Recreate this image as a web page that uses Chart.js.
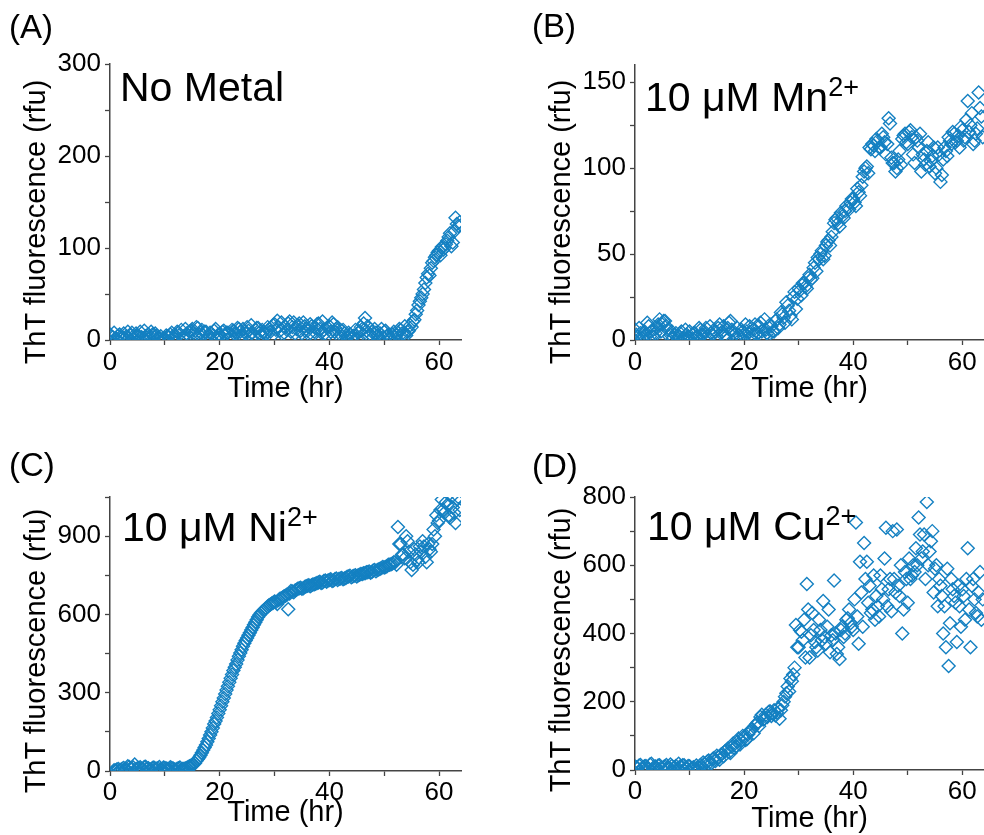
<!DOCTYPE html>
<html>
<head>
<meta charset="utf-8">
<script src="https://cdn.jsdelivr.net/npm/chart.js@4/dist/chart.umd.min.js"></script>
<style>
  body { margin: 0; width: 984px; height: 835px; overflow: hidden; background: #fff; position: relative;
         font-family: "Liberation Sans", Arial, sans-serif; }
  canvas { position: absolute; }
  .txt { position: absolute; color: #000; white-space: nowrap; line-height: 1; }
  .tag { font-size: 33px; }
  .name { font-size: 41px; }
  .name sup { font-size: 27px; vertical-align: 15px; line-height: 0; }
  .ytitle { font-size: 29px; transform: translate(-50%, -50%) rotate(-90deg); }
</style>
</head>
<body>
<canvas id="panelA" width="492" height="410" style="left:0;top:0;width:492px;height:410px"></canvas>
<canvas id="panelB" width="500" height="410" style="left:492px;top:0;width:500px;height:410px"></canvas>
<canvas id="panelC" width="492" height="415" style="left:0;top:420px;width:492px;height:415px"></canvas>
<canvas id="panelD" width="500" height="415" style="left:492px;top:420px;width:500px;height:415px"></canvas>

<div class="txt tag" style="left:9px;top:10px">(A)</div>
<div class="txt tag" style="left:532px;top:9px">(B)</div>
<div class="txt tag" style="left:9px;top:448px">(C)</div>
<div class="txt tag" style="left:532px;top:449px">(D)</div>

<div class="txt name" style="left:120px;top:67px">No Metal</div>
<div class="txt name" style="left:645px;top:77px">10 μM Mn<sup>2+</sup></div>
<div class="txt name" style="left:122px;top:507px">10 μM Ni<sup>2+</sup></div>
<div class="txt name" style="left:647px;top:506px">10 μM Cu<sup>2+</sup></div>

<div class="txt ytitle" style="left:35px;top:222px">ThT fluorescence (rfu)</div>
<div class="txt ytitle" style="left:560px;top:222px">ThT fluorescence (rfu)</div>
<div class="txt ytitle" style="left:35px;top:651px">ThT fluorescence (rfu)</div>
<div class="txt ytitle" style="left:560px;top:650px">ThT fluorescence (rfu)</div>

<script>
// sampling times (hr) of the two interleaved read series
var times = [
  0, 0.5, 1, 1.5, 2, 2.5, 3, 3.5, 4, 4.5, 5, 5.5, 6, 6.5, 7, 7.5,
  8, 8.5, 9, 9.5, 10, 10.5, 11, 11.5, 12, 12.5, 13, 13.5, 14, 14.5, 15, 15.5,
  16, 16.5, 17, 17.5, 18, 18.5, 19, 19.5, 20, 20.5, 21, 21.5, 22, 22.5, 23, 23.5,
  24, 24.5, 25, 25.5, 26, 26.5, 27, 27.5, 28, 28.5, 29, 29.5, 30, 30.5, 31, 31.5,
  32, 32.5, 33, 33.5, 34, 34.5, 35, 35.5, 36, 36.5, 37, 37.5, 38, 38.5, 39, 39.5,
  40, 40.5, 41, 41.5, 42, 42.5, 43, 43.5, 44, 44.5, 45, 45.5, 46, 46.5, 47, 47.5,
  48, 48.5, 49, 49.5, 50, 50.5, 51, 51.5, 52, 52.5, 53, 53.5, 54, 54.5, 55, 55.5,
  56, 56.5, 57, 57.5, 58, 58.5, 59, 59.5, 60, 60.5, 61, 61.5, 62, 62.5, 63, 63.5
];
var times2 = [
  0.25, 0.75, 1.25, 1.75, 2.25, 2.75, 3.25, 3.75, 4.25, 4.75, 5.25, 5.75, 6.25, 6.75, 7.25, 7.75,
  8.25, 8.75, 9.25, 9.75, 10.25, 10.75, 11.25, 11.75, 12.25, 12.75, 13.25, 13.75, 14.25, 14.75, 15.25, 15.75,
  16.25, 16.75, 17.25, 17.75, 18.25, 18.75, 19.25, 19.75, 20.25, 20.75, 21.25, 21.75, 22.25, 22.75, 23.25, 23.75,
  24.25, 24.75, 25.25, 25.75, 26.25, 26.75, 27.25, 27.75, 28.25, 28.75, 29.25, 29.75, 30.25, 30.75, 31.25, 31.75,
  32.25, 32.75, 33.25, 33.75, 34.25, 34.75, 35.25, 35.75, 36.25, 36.75, 37.25, 37.75, 38.25, 38.75, 39.25, 39.75,
  40.25, 40.75, 41.25, 41.75, 42.25, 42.75, 43.25, 43.75, 44.25, 44.75, 45.25, 45.75, 46.25, 46.75, 47.25, 47.75,
  48.25, 48.75, 49.25, 49.75, 50.25, 50.75, 51.25, 51.75, 52.25, 52.75, 53.25, 53.75, 54.25, 54.75, 55.25, 55.75,
  56.25, 56.75, 57.25, 57.75, 58.25, 58.75, 59.25, 59.75, 60.25, 60.75, 61.25, 61.75, 62.25, 62.75, 63.25, 63.75
];

// (A) no metal
var noMetal = [
  6, 3, 2, 5, 1, 7, 4, 2, 8, 3, 5, 9, 2, 4, 6, 9,
  3, 5, 1, 0, 2, 4, 6, 3, 5, 8, 11, 4, 7, 9, 12, 6,
  13, 8, 5, 9, 4, 7, 10, 3, 6, 9, 5, 8, 4, 10, 7, 12,
  5, 9, 14, 6, 8, 11, 13, 5, 9, 7, 12, 4, 17, 21, 10, 6,
  14, 18, 9, 19, 12, 18, 7, 15, 10, 17, 5, 13, 18, 8, 11, 4,
  15, 19, 9, 14, 6, 11, 3, 8, 2, 5, 1, 9, 12, 24, 15, 6,
  3, 8, 2, 12, 9, 4, 1, 6, 3, 8, 11, 6, 5, 10, 14, 22,
  32, 42, 50, 62, 72, 78, 86, 92, 97, 101, 100, 108, 116, 106, 133, 124
];
var noMetal2 = [
  4, 8, 1, 6, 3, 2, 9, 5, 1, 7, 4, 3, 10, 5, 2, 6,
  7, 2, 4, 1, 5, 3, 8, 2, 9, 6, 3, 12, 5, 10, 8, 14,
  6, 11, 9, 3, 8, 5, 12, 6, 4, 10, 8, 2, 11, 6, 13, 9,
  12, 7, 10, 16, 5, 13, 8, 11, 6, 14, 9, 16, 11, 14, 19, 8,
  11, 20, 14, 7, 16, 10, 19, 12, 6, 15, 9, 17, 12, 20, 7, 13,
  9, 17, 12, 4, 10, 7, 2, 6, 4, 11, 8, 14, 18, 10, 4, 9,
  12, 5, 7, 3, 10, 6, 2, 9, 5, 12, 7, 15, 9, 16, 20, 28,
  38, 46, 55, 68, 70, 84, 90, 95, 92, 98, 104, 112, 102, 118, 126, 128
];

// (B) 10 uM Mn2+
var mn = [
  6, 2, 4, 1, 3, 8, 5, 2, 7, 12, 9, 11, 6, 3, 1, 4,
  2, 5, 0, 3, 5, 1, 4, 2, 6, 3, 7, 1, 4, 6, 2, 9,
  5, 3, 7, 11, 4, 1, 3, 6, 2, 5, 8, 3, 9, 4, 10, 2,
  6, 3, 8, 5, 12, 9, 15, 10, 20, 14, 25, 18, 30, 26, 33, 30,
  38, 36, 45, 48, 50, 47, 55, 58, 60, 68, 71, 66, 72, 75, 77, 80,
  82, 78, 86, 90, 98, 101, 112, 114, 110, 116, 112, 118, 108, 129, 106, 103,
  100, 110, 117, 120, 114, 122, 108, 118, 112, 98, 105, 110, 101, 107, 97, 112,
  92, 105, 110, 118, 114, 120, 116, 112, 122, 118, 139, 125, 114, 120, 144, 130
];
var mn2 = [
  3, 7, 1, 5, 10, 2, 6, 4, 9, 5, 11, 8, 2, 5, 3, 1,
  4, 1, 6, 2, 0, 4, 2, 7, 3, 5, 2, 8, 3, 5, 7, 4,
  8, 2, 10, 6, 3, 7, 2, 5, 9, 4, 1, 6, 3, 8, 5, 12,
  4, 9, 5, 11, 7, 16, 13, 22, 17, 12, 28, 24, 29, 33, 31, 36,
  35, 42, 40, 47, 52, 49, 57, 55, 63, 70, 68, 74, 71, 78, 76, 82,
  80, 88, 84, 95, 100, 97, 111, 113, 117, 112, 120, 115, 114, 126, 103, 98,
  105, 102, 119, 115, 121, 118, 103, 116, 120, 108, 102, 115, 104, 112, 100, 108,
  96, 112, 107, 116, 121, 115, 119, 124, 116, 128, 121, 132, 116, 123, 135, 118
];

// (C) 10 uM Ni2+
var ni = [
  null, null, 2, 8, 5, 12, 6, 15, 9, 25, 10, 14, 8, 16, 11, 7,
  13, 9, 15, 6, 12, 8, 14, 10, 5, 11, 7, 9, 12, 18, 22, 30,
  45, 60, 80, 100, 125, 150, 180, 205, 235, 265, 295, 325, 355, 385, 410, 440,
  465, 490, 510, 530, 550, 570, 590, 605, 615, 625, 635, 642, 650, 640, 660, 665,
  672, 620, 690, 685, 695, 700, 698, 705, 710, 708, 715, 718, 722, 720, 728, 725,
  732, 728, 735, 732, 738, 735, 740, 745, 742, 748, 745, 752, 755, 758, 762, 760,
  768, 765, 772, 778, 780, 785, 790, 795, 800, 935, 870, 830, 900, 840, 770, 850,
  810, 860, 880, 820, 870, 840, 925, 980, 960, 1040, 990, 1020, 970, 1010, 950, 1050
];
var ni2 = [
  null, 3, 6, 4, 9, 7, 18, 10, 13, 8, 12, 9, 15, 10, 6, 12,
  9, 11, 7, 13, 10, 8, 12, 6, 9, 13, 8, 10, 15, 20, 26, 38,
  52, 70, 90, 112, 138, 165, 192, 220, 250, 280, 310, 340, 370, 398, 425, 452,
  478, 500, 520, 540, 560, 580, 598, 610, 620, 630, 638, 645, 648, 655, 662, 670,
  675, 680, 688, 692, 698, 702, 700, 708, 712, 712, 716, 720, 725, 722, 730, 730,
  735, 730, 738, 736, 740, 738, 744, 748, 745, 750, 750, 755, 758, 762, 765, 763,
  770, 770, 775, 782, 782, 790, 792, 800, 790, 870, 830, 815, 880, 800, 790, 830,
  800, 840, 860, 800, 850, 870, 900, 950, 1000, 1000, 1030, 980, 1050, 990, 1040, 1000
];

// (D) 10 uM Cu2+
var cu = [
  10, 5, 15, 8, 12, 4, 18, 9, 6, 14, 3, 11, 7, 16, 5, 12,
  18, 8, 14, 4, 11, 6, 2, 9, 15, 22, 12, 28, 20, 35, 42, 30,
  48, 55, 62, 50, 78, 70, 92, 85, 98, 90, 112, 120, 130, 140, 155, 148,
  162, 170, 158, 175, 168, 150, 190, 215, 245, 268, 280, 425, 360, 405, 440, 545,
  330, 460, 375, 350, 410, 495, 370, 470, 395, 555, 340, 325, 420, 400, 445, 430,
  410, 725, 370, 520, 665, 610, 540, 470, 440, 480, 570, 500, 710, 530, 465, 560,
  705, 510, 400, 580, 490, 560, 600, 650, 740, 620, 690, 785, 640, 700, 590, 480,
  540, 400, 360, 305, 560, 510, 375, 480, 530, 440, 650, 360, 560, 460, 520, 440
];
var cu2 = [
  8, 13, 4, 11, 7, 16, 3, 10, 13, 6, 9, 15, 4, 12, 8, 3,
  10, 14, 6, 12, 3, 8, 13, 5, 10, 18, 25, 16, 32, 26, 38, 45,
  40, 58, 52, 68, 64, 82, 75, 100, 88, 105, 118, 108, 135, 128, 162, 150,
  155, 172, 165, 160, 182, 175, 200, 225, 230, 260, 300, 360, 410, 380, 330, 470,
  395, 410, 360, 440, 380, 390, 420, 345, 380, 400, 360, 410, 390, 440, 470, 420,
  500, 450, 610, 420, 560, 490, 460, 570, 510, 450, 530, 620, 480, 560, 700, 520,
  540, 600, 470, 560, 620, 570, 580, 600, 690, 640, 560, 600, 670, 520, 600, 560,
  510, 480, 590, 430, 530, 490, 540, 420, 510, 560, 470, 540, 500, 450, 580, 500
];

var FONT = '"Liberation Sans", Arial, sans-serif';
var BLUE = 'rgb(20,128,194)';
var AXIS = '#444';

function panel(id, series, cfg) {
  var datasets = series.map(s => ({
    data: s[0].map((t, i) => ({ x: t, y: s[1][i] })),
    pointStyle: 'rectRot',
    pointRadius: 6.5,
    pointHoverRadius: 6.5,
    pointBorderWidth: 1.4,
    borderColor: BLUE,
    backgroundColor: 'rgba(0,0,0,0)'
  }));

  return new Chart(document.getElementById(id), {
    type: 'scatter',
    data: { datasets: datasets },
    options: {
      responsive: false,
      animation: false,
      devicePixelRatio: 1,
      events: [],
      layout: { padding: { left: 0, top: cfg.top, right: cfg.right, bottom: 0 } },
      plugins: { legend: { display: false }, tooltip: { enabled: false } },
      scales: {
        x: {
          type: 'linear', position: 'bottom', min: 0, max: 64,
          ticks: {
            stepSize: 10, includeBounds: false, autoSkip: false, maxRotation: 0,
            padding: cfg.xPad, color: '#000', font: { family: FONT, size: 26, lineHeight: 1.2 },
            callback: v => v % 20 === 0 ? v : ''
          },
          grid: { display: true, drawOnChartArea: false, drawTicks: true, tickLength: 5, tickColor: AXIS, tickWidth: 1.3 },
          border: { display: true, color: AXIS, width: 1.5 },
          title: {
            display: true, text: 'Time (hr)', color: '#000',
            font: { family: FONT, size: 29, lineHeight: 1 },
            padding: { top: 0, bottom: cfg.titlePad }
          },
          afterFit: s => { s.height = cfg.xh; }
        },
        y: {
          type: 'linear', position: 'left', min: 0, max: cfg.yMax,
          ticks: {
            stepSize: cfg.yStep, includeBounds: false, autoSkip: false,
            padding: 4, color: '#000', font: { family: FONT, size: 26, lineHeight: 1.2 },
            callback: v => v % cfg.yMajor === 0 ? v : ''
          },
          grid: { display: true, drawOnChartArea: false, drawTicks: true, tickLength: 5, tickColor: AXIS, tickWidth: 1.3 },
          border: { display: true, color: AXIS, width: 1.5 },
          afterFit: s => { s.width = cfg.yw; }
        }
      }
    }
  });
}

panel('panelA', [[times, noMetal], [times2, noMetal2]],
  { top: 64, right: 31, yw: 110, xh: 70, xPad: 2, titlePad: 7, yMax: 300, yStep: 50, yMajor: 100 });
panel('panelB', [[times, mn], [times2, mn2]],
  { top: 65, right: 5, yw: 143, xh: 70, xPad: 2, titlePad: 7, yMax: 160, yStep: 25, yMajor: 50 });
panel('panelC', [[times, ni], [times2, ni2]],
  { top: 77, right: 31, yw: 110, xh: 64, xPad: 1, titlePad: 8, yMax: 1050, yStep: 150, yMajor: 300 });
panel('panelD', [[times, cu], [times2, cu2]],
  { top: 77, right: 5, yw: 143, xh: 65, xPad: 1, titlePad: 2, yMax: 800, yStep: 100, yMajor: 200 });
</script>
</body>
</html>
